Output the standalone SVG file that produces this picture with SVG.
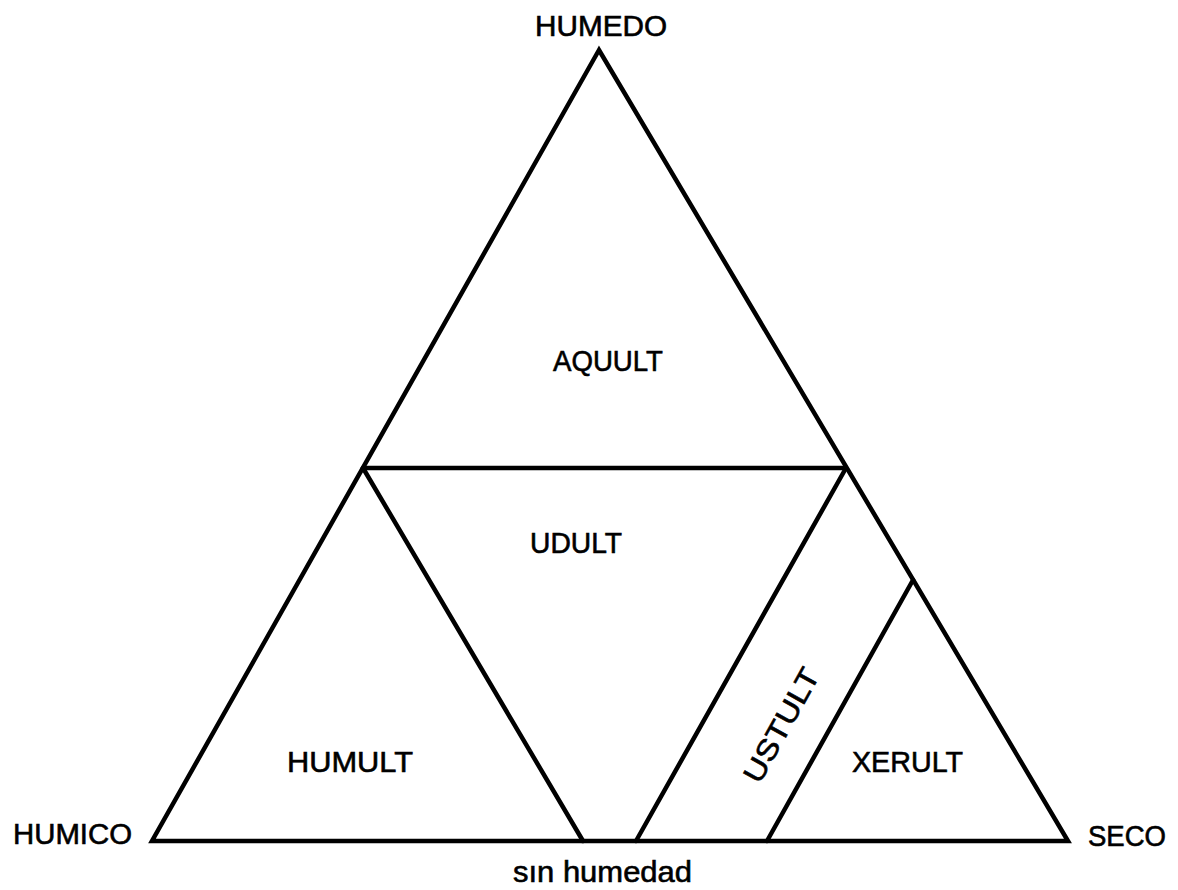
<svg xmlns="http://www.w3.org/2000/svg" width="1178" height="890" viewBox="0 0 1178 890">
<style>
.ln{stroke:#000;stroke-width:4.5;fill:none;stroke-linecap:round;stroke-linejoin:miter}
.t{font-family:"Liberation Sans",Arial,sans-serif;font-size:29px;fill:#000;stroke:#000;stroke-width:0.6;font-weight:normal}
</style>
<rect width="1178" height="890" fill="#fff"/>
<g id="connectors">
<polygon class="ln" points="599,50 152,841 1068,841"/>
<line class="ln" x1="363" y1="468" x2="846" y2="468"/>
<line class="ln" x1="363" y1="468" x2="583" y2="841"/>
<line class="ln" x1="846" y1="468" x2="636" y2="841"/>
<line class="ln" x1="913" y1="580" x2="767" y2="841"/>
</g>
<g id="humedo"><text class="t" x="535" y="36" textLength="132" lengthAdjust="spacingAndGlyphs">HUMEDO</text></g>
<g id="humico"><text class="t" x="13" y="844" textLength="119" lengthAdjust="spacingAndGlyphs">HUMICO</text></g>
<g id="seco"><text class="t" x="1088" y="846" textLength="78" lengthAdjust="spacingAndGlyphs">SECO</text></g>
<g id="sin-humedad"><text class="t" x="513" y="882" textLength="179" lengthAdjust="spacingAndGlyphs">sın humedad</text></g>
<g id="aquult"><text class="t" x="553" y="371" textLength="110" lengthAdjust="spacingAndGlyphs">AQUULT</text></g>
<g id="udult"><text class="t" x="530" y="553" textLength="92" lengthAdjust="spacingAndGlyphs">UDULT</text></g>
<g id="humult"><text class="t" x="287" y="772" textLength="126" lengthAdjust="spacingAndGlyphs">HUMULT</text></g>
<g id="xerult"><text class="t" x="852" y="772" textLength="111" lengthAdjust="spacingAndGlyphs">XERULT</text></g>
<g id="ustult"><text class="t" transform="translate(790,730) rotate(-61)" x="-63" y="0" textLength="126" lengthAdjust="spacingAndGlyphs">USTULT</text></g>
</svg>
